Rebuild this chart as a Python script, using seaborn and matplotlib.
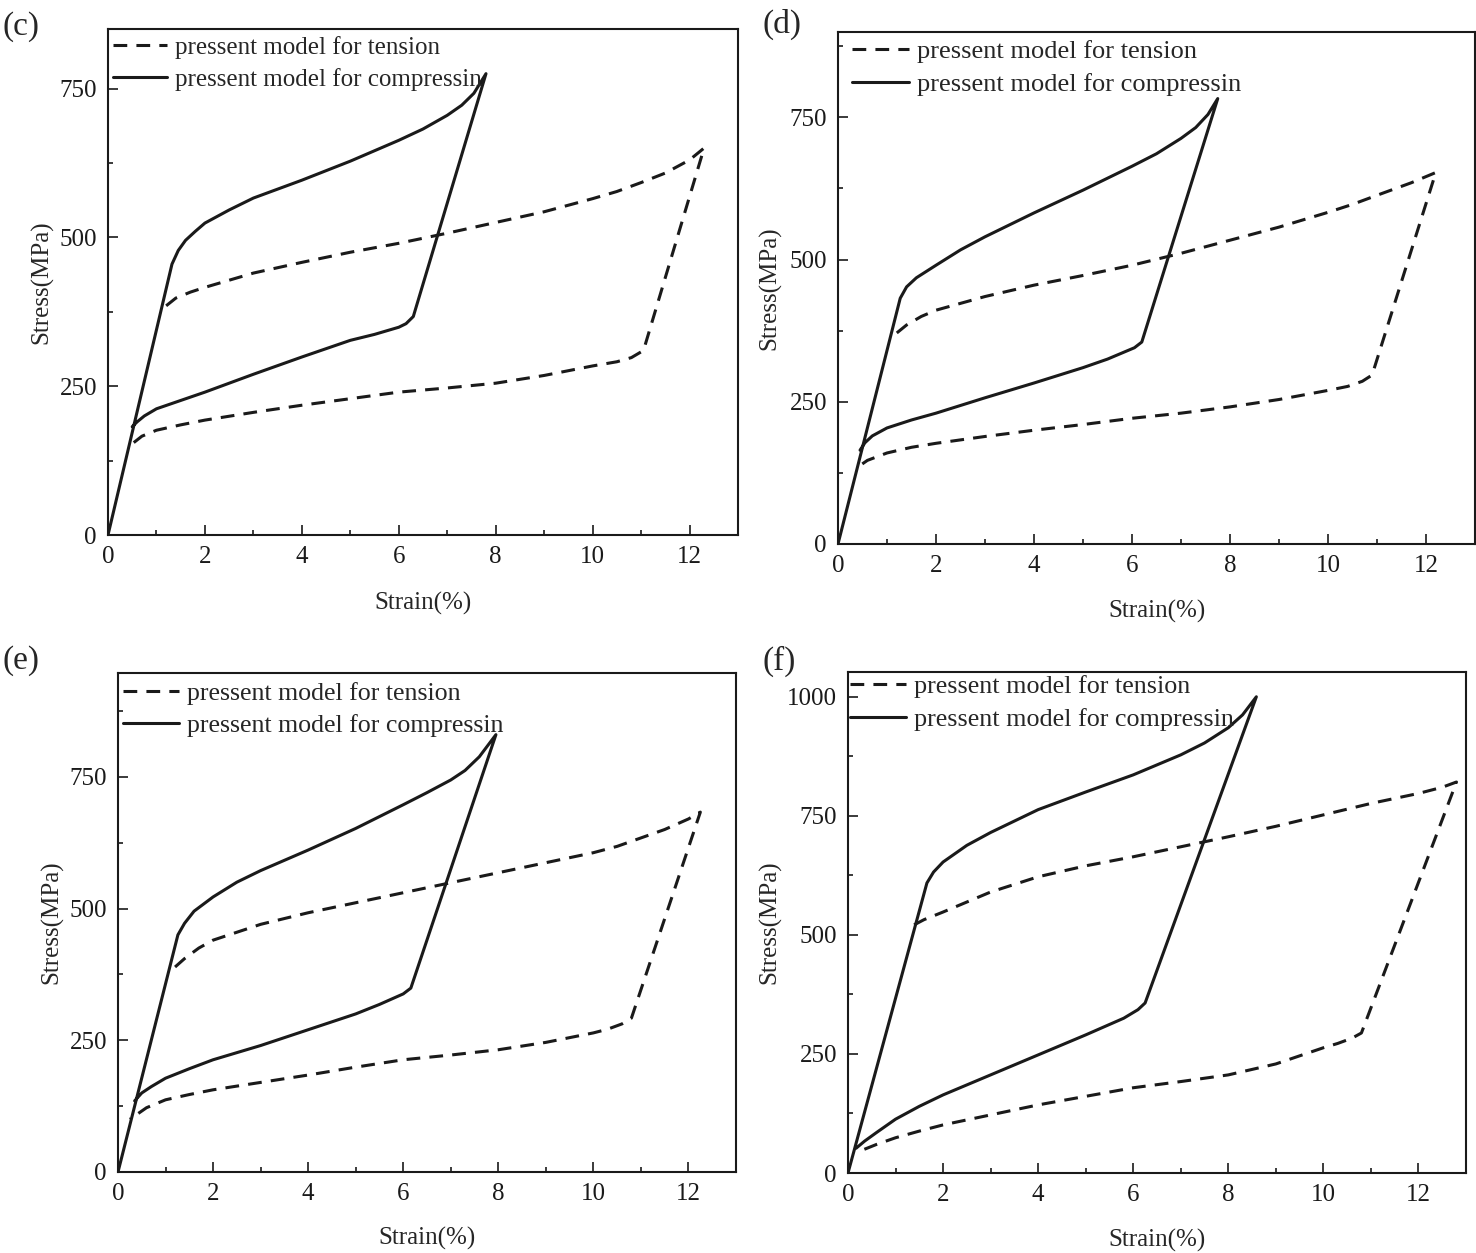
import matplotlib
matplotlib.use("Agg")
import matplotlib.pyplot as plt
import seaborn as sns
from matplotlib.ticker import MultipleLocator

# ---- data (strain %, stress MPa) ----
# (c)
c_comp_x = [0, 1.32, 1.45, 1.6, 1.8, 2.0, 2.5, 3.0, 4.0, 5.0, 6.0, 6.5, 7.0, 7.3, 7.55, 7.8,
            6.3, 6.15, 6.0, 5.5, 5.0, 4.0, 3.0, 2.0, 1.5, 1.0, 0.75, 0.6, 0.5]
c_comp_y = [0, 455, 478, 495, 510, 524, 546, 566, 596, 628, 663, 682, 705, 722, 742, 775,
            367, 355, 349, 337, 327, 299, 270, 240, 226, 212, 200, 190, 182]
c_tens_x = [1.2, 1.4, 1.7, 2.0, 3.0, 4.0, 5.0, 6.0, 7.0, 8.0, 9.0, 10.0, 10.5, 11.0, 11.5, 12.0, 12.3,
            11.05, 10.8, 10.5, 10.0, 9.0, 8.0, 7.0, 6.0, 5.0, 4.0, 3.0, 2.0, 1.5, 1.0, 0.7, 0.45]
c_tens_y = [385, 398, 408, 416, 440, 458, 475, 490, 507, 525, 543, 565, 577, 592, 608, 630, 650,
            310, 298, 291, 284, 268, 255, 247, 240, 229, 218, 206, 193, 185, 176, 166, 150]

# (d)
d_comp_x = [0, 1.27, 1.4, 1.6, 2.0, 2.5, 3.0, 4.0, 5.0, 6.0, 6.5, 7.0, 7.3, 7.55, 7.75,
            6.2, 6.05, 5.5, 5.0, 4.0, 3.0, 2.0, 1.5, 1.0, 0.7, 0.55, 0.45]
d_comp_y = [0, 432, 452, 468, 490, 517, 540, 582, 622, 664, 686, 713, 732, 755, 783,
            355, 345, 325, 310, 283, 257, 230, 218, 204, 190, 178, 165]
d_tens_x = [1.2, 1.4, 1.7, 2.0, 3.0, 4.0, 5.0, 6.0, 7.0, 8.0, 9.0, 10.0, 10.5, 11.0, 11.7, 12.2,
            10.9, 10.7, 10.4, 10.0, 9.0, 8.0, 7.0, 6.0, 5.0, 4.0, 3.0, 2.0, 1.5, 1.0, 0.6, 0.35]
d_tens_y = [371, 385, 400, 411, 435, 455, 472, 490, 511, 534, 557, 583, 597, 613, 635, 653,
            297, 286, 277, 270, 254, 241, 230, 221, 210, 200, 189, 177, 170, 160, 147, 132]

# (e)
e_comp_x = [0, 1.26, 1.4, 1.6, 2.0, 2.5, 3.0, 4.0, 5.0, 6.0, 6.5, 7.0, 7.3, 7.6, 7.95,
            6.16, 6.0, 5.5, 5.0, 4.0, 3.0, 2.0, 1.5, 1.0, 0.7, 0.5, 0.35]
e_comp_y = [0, 450, 472, 495, 522, 550, 572, 611, 652, 697, 720, 744, 762, 788, 830,
            349, 338, 318, 300, 270, 240, 213, 196, 178, 162, 150, 135]
e_tens_x = [1.2, 1.4, 1.7, 2.0, 3.0, 4.0, 5.0, 6.0, 7.0, 8.0, 9.0, 10.0, 10.5, 11.0, 11.5, 12.0, 12.25,
            10.8, 10.6, 10.3, 10.0, 9.0, 8.0, 7.0, 6.0, 5.0, 4.0, 3.0, 2.0, 1.5, 1.0, 0.6, 0.25]
e_tens_y = [389, 405, 425, 440, 470, 492, 511, 530, 549, 568, 587, 606, 618, 634, 650, 670, 683,
            292, 281, 271, 264, 246, 232, 222, 213, 199, 184, 170, 156, 147, 137, 122, 100]

# (f)
f_comp_x = [0, 1.66, 1.8, 2.0, 2.5, 3.0, 4.0, 5.0, 6.0, 7.0, 7.5, 8.0, 8.3, 8.59,
            6.25, 6.1, 5.8, 5.0, 4.0, 3.0, 2.0, 1.5, 1.0, 0.6, 0.35, 0.17]
f_comp_y = [0, 609, 632, 653, 688, 715, 763, 800, 836, 878, 903, 935, 962, 1000,
            357, 343, 325, 290, 248, 206, 164, 140, 113, 85, 67, 52]
f_tens_x = [1.39, 1.6, 2.0, 3.0, 4.0, 5.0, 6.0, 7.0, 8.0, 9.0, 10.0, 11.0, 12.0, 12.5, 12.8,
            10.8, 10.6, 10.3, 10.0, 9.0, 8.0, 7.0, 6.0, 5.0, 4.0, 3.0, 2.0, 1.5, 1.0, 0.6, 0.3]
f_tens_y = [521, 532, 548, 590, 622, 645, 664, 685, 706, 728, 752, 776, 797, 810, 821,
            294, 283, 272, 263, 229, 206, 192, 179, 161, 143, 122, 101, 88, 74, 60, 48]

tension_label = "pressent model for tension"
compress_label = "pressent model for compressin"
x_ticks = [0, 2, 4, 6, 8, 10, 12]

W, H = 1476, 1253

# panel: (tag, comp, tens, ymax, yticks, axes box px [left, right, top, bottom], extras)
panels = [
    ("(c)", (c_comp_x, c_comp_y), (c_tens_x, c_tens_y), 850, [0, 250, 500, 750],
     (108, 738, 29, 535), dict(tag_xy=(2, 27), leg=(5, -7), xl=603, yl=42, fs=18)),
    ("(d)", (d_comp_x, d_comp_y), (d_tens_x, d_tens_y), 900, [0, 250, 500, 750],
     (838, 1475, 32, 544), dict(tag_xy=(762, 24), leg=(14, -8), xl=611, yl=770, fs=19)),
    ("(e)", (e_comp_x, e_comp_y), (e_tens_x, e_tens_y), 947, [0, 250, 500, 750],
     (118, 736, 673, 1172), dict(tag_xy=(2, 661), leg=(5, -9), xl=1238, yl=52, fs=18.6)),
    ("(f)", (f_comp_x, f_comp_y), (f_tens_x, f_tens_y), 1052, [0, 250, 500, 750, 1000],
     (848, 1466, 672, 1173), dict(tag_xy=(762, 661), leg=(2, -3), xl=1240, yl=770, fs=18.8)),
]

sns.set_style("ticks")
plt.rcParams['font.family'] = ['Liberation Serif', 'DejaVu Serif']
plt.rcParams['axes.linewidth'] = 1.5

fig = plt.figure(figsize=(W / 100, H / 100), dpi=100)

for tag, comp, tens, ymax, yticks, box, ex in panels:
    l, r, t, b = box
    ax = fig.add_axes([l / W, (H - b) / H, (r - l) / W, (b - t) / H])
    sns.lineplot(x=tens[0], y=tens[1], sort=False, estimator=None, ax=ax, color="#1a1a1a",
                 linewidth=2.2, linestyle=(0, (4.5, 3)), label=tension_label)
    sns.lineplot(x=comp[0], y=comp[1], sort=False, estimator=None, ax=ax, color="#1a1a1a",
                 linewidth=2.2, label=compress_label)
    ax.set_xlim(0, 13)
    ax.set_ylim(0, ymax)
    ax.set_xticks(x_ticks)
    ax.set_yticks(yticks)
    ax.xaxis.set_minor_locator(MultipleLocator(1))
    ax.yaxis.set_minor_locator(MultipleLocator(125))
    ax.tick_params(which="both", direction="in", top=False, right=False, width=1.2, colors="#1a1a1a")
    ax.tick_params(which="major", length=7, labelsize=18)
    ax.tick_params(which="minor", length=3.6)
    ax.tick_params(axis="x", pad=8)
    ax.tick_params(axis="y", pad=8)
    for sp in ax.spines.values():
        sp.set_color("#1a1a1a")
        sp.set_linewidth(1.5)

    ax.set_xlabel("Strain(%)", fontsize=18)
    ax.set_ylabel("Stress(MPa)", fontsize=18)
    ax.xaxis.label.set_va("center")
    ax.yaxis.label.set_va("center")
    ax.xaxis.set_label_coords(0.5, -(ex["xl"] - b) / (b - t))
    ax.yaxis.set_label_coords(-(l - ex["yl"]) / (r - l), 0.5)

    lx, ly = ex["leg"]
    ax.legend(loc="upper left", bbox_to_anchor=(lx / (r - l), 1 + ly / (b - t)),
              frameon=False, borderpad=0, borderaxespad=0, fontsize=ex["fs"],
              handlelength=2.15, handletextpad=0.32, labelspacing=0.36)

    tx, ty = ex["tag_xy"]
    fig.text(tx / W, 1 - ty / H, tag, fontsize=24, ha="left", va="center")

fig.savefig("out.png", dpi=100)
